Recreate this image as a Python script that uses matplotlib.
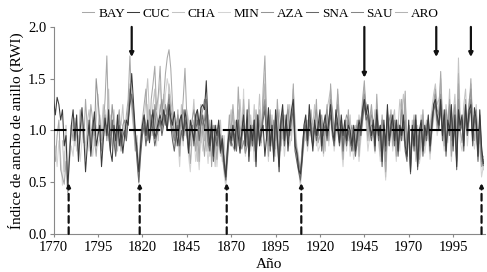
import numpy as np
import matplotlib
matplotlib.use('Agg')
import matplotlib.pyplot as plt

plt.rcParams.update({
    'font.family': 'serif',
    'font.serif': ['Liberation Serif', 'DejaVu Serif'],
    'font.size': 10.5,
    'axes.linewidth': 0.8,
})

# ring width index series (first year, values per year)
BAY_START = 1770
BAY = [0.78, 0.70, 0.95, 1.10, 0.62, 0.55, 0.48, 0.70, 0.40, 0.85,
       1.05, 0.90, 1.12, 0.95, 0.80, 1.20, 1.05, 0.88, 1.30, 1.02,
       0.95, 1.25, 1.10, 0.92, 0.75, 1.00, 1.15, 0.90, 1.05, 1.30,
       1.72, 1.05, 0.85, 1.10, 0.95, 0.78, 1.08, 1.20, 0.90, 1.00,
       0.92, 1.15, 1.30, 1.72, 1.25, 1.05, 0.80, 0.88, 0.55, 0.95,
       1.10, 1.25, 1.40, 1.05, 0.90, 1.30, 1.45, 1.62, 1.20, 1.35,
       1.62, 1.15, 1.30, 1.55, 1.70, 1.78, 1.60, 1.25, 1.00, 0.85,
       1.20, 0.75, 1.05, 1.30, 1.60, 1.15, 0.90, 0.68, 0.95, 1.10,
       0.80, 1.00, 0.70, 1.25, 0.95, 0.75, 1.05, 0.85, 1.10, 0.65,
       1.05, 0.90, 0.72, 1.00, 0.82, 0.75, 0.62, 0.52, 0.90, 1.15,
       0.95, 1.25, 1.00, 0.85, 1.42, 1.05, 0.90, 1.20, 0.78, 0.95,
       1.30, 0.85, 1.05, 0.80, 1.20, 0.95, 1.10, 0.88, 1.40, 1.72,
       1.10, 0.75, 1.20, 0.90, 1.05, 0.82, 1.30, 1.00, 0.92, 1.15,
       0.85, 1.05, 1.25, 0.95, 1.10, 1.45, 0.90, 0.75, 0.68, 0.50,
       0.80, 0.95, 1.10, 0.85, 1.05, 1.20, 0.92, 1.00, 1.30, 0.88,
       0.95, 1.10, 0.78, 1.05, 1.25, 0.90, 1.45, 1.15, 0.85, 1.00,
       1.40, 1.10, 0.95, 0.72, 1.05, 0.90, 1.20, 0.85, 1.00, 0.80,
       0.95, 1.10, 0.75, 1.05, 1.30, 1.48, 1.15, 0.90, 1.10, 1.25,
       1.05, 0.88, 1.35, 1.00, 0.80, 1.15, 0.92, 0.60, 1.05, 0.95,
       1.20, 0.85, 1.05, 0.75, 1.10, 0.90, 1.30, 1.00, 1.38, 0.82,
       1.05, 0.70, 0.95, 1.15, 0.80, 1.00, 0.72, 0.90, 1.20, 0.85,
       1.00, 1.10, 0.78, 1.05, 1.25, 1.40, 1.05, 1.20, 1.57, 1.10,
       0.85, 1.15, 0.95, 1.30, 0.75, 1.05, 1.20, 0.90, 1.45, 1.00,
       0.88, 1.10, 1.30, 0.95, 1.20, 1.50, 1.05, 0.90, 1.15, 0.80,
       0.95, 0.65, 0.70]

CUC_START = 1770
CUC = [1.30, 1.15, 1.32, 1.25, 1.10, 1.20, 0.85, 0.95, 0.45, 0.75,
       1.05, 1.20, 0.90, 1.15, 0.70, 1.00, 1.22, 0.95, 0.60, 0.85,
       1.10, 0.75, 1.00, 1.18, 0.85, 0.95, 1.05, 0.65, 0.90, 1.12,
       0.95, 1.20, 0.80, 0.70, 1.05, 0.90, 1.15, 0.85, 1.00, 0.78,
       0.95, 1.10, 1.05, 1.30, 1.55, 1.28, 1.00, 0.80, 0.60, 0.85,
       1.05, 1.15, 0.95, 1.10, 0.88, 1.05, 1.20, 0.92, 1.00, 1.08,
       1.15, 1.05, 1.20, 1.10, 1.00, 1.25, 1.12, 1.05, 1.18, 1.00,
       0.85, 1.10, 1.15, 0.95, 1.20, 1.05, 0.78, 1.10, 1.00, 0.90,
       1.15, 1.20, 1.05, 1.22, 1.25, 1.20, 1.48, 1.05, 0.85, 1.10,
       0.75, 1.05, 0.95, 1.10, 0.80, 0.92, 0.70, 0.55, 0.85, 1.00,
       0.90, 1.05, 0.82, 1.10, 0.95, 0.78, 1.00, 1.15, 0.85, 1.20,
       0.70, 1.05, 0.90, 1.10, 0.65, 1.15, 0.85, 1.00, 1.05, 0.75,
       0.95, 1.22, 0.85, 1.05, 0.70, 1.20, 0.95, 0.60, 1.10, 1.25,
       0.90, 1.15, 0.80, 1.05, 1.20, 1.30, 0.85, 0.78, 0.62, 0.58,
       0.75, 1.05, 1.15, 0.90, 1.25, 1.00, 0.80, 1.10, 0.95, 1.05,
       1.20, 0.85, 1.05, 1.15, 0.95, 1.10, 1.25, 1.00, 0.90, 1.20,
       1.05, 0.88, 1.15, 0.95, 1.10, 0.90, 1.05, 1.00, 0.85, 1.05,
       0.80, 0.95, 1.10, 1.00, 1.20, 1.30, 1.15, 1.25, 1.05, 0.95,
       1.10, 0.85, 1.20, 0.95, 1.05, 0.70, 1.10, 0.85, 1.25, 0.90,
       1.05, 1.15, 0.90, 1.10, 0.80, 1.05, 0.95, 1.15, 0.85, 0.75,
       1.10, 0.60, 1.05, 0.85, 1.15, 0.65, 1.00, 1.10, 0.80, 1.05,
       0.95, 1.15, 0.85, 1.05, 1.25, 1.30, 1.15, 1.05, 1.30, 0.95,
       1.20, 0.80, 1.10, 1.00, 1.25, 0.85, 1.15, 0.65, 1.20, 1.05,
       1.15, 0.85, 1.25, 1.00, 1.20, 1.25, 0.90, 1.22, 1.10, 0.75,
       1.20, 0.85, 0.68]

CHA_START = 1775
CHA = [0.90, 0.60, 1.05, 0.55, 0.80,
       0.95, 1.10, 0.85, 1.05, 0.75, 0.90, 1.15, 1.00, 0.72, 1.08,
       1.20, 0.95, 1.05, 0.85, 1.10, 1.35, 0.90, 1.00, 1.25, 0.95,
       1.10, 1.40, 0.85, 1.00, 1.20, 0.90, 0.80, 1.10, 1.05, 1.25,
       0.90, 1.05, 1.20, 1.45, 1.30, 1.10, 0.85, 0.95, 0.50, 0.80,
       0.95, 1.10, 1.30, 1.50, 1.15, 1.00, 1.25, 1.40, 1.05, 0.90,
       1.25, 1.10, 1.35, 1.20, 1.05, 1.45, 1.30, 1.15, 0.85, 1.00,
       1.10, 0.90, 1.25, 1.05, 0.95, 1.20, 1.10, 0.85, 1.05, 1.30,
       0.95, 0.70, 1.10, 0.88, 1.05, 0.95, 0.80, 1.15, 0.75, 1.00,
       0.90, 0.65, 1.05, 0.85, 1.10, 0.70, 0.95, 0.50, 0.80, 1.05,
       1.20, 0.90, 1.10, 1.05, 0.85, 1.30, 1.00, 1.25, 0.92, 1.05,
       0.85, 1.15, 0.95, 1.25, 0.80, 1.05, 1.35, 1.00, 1.20, 1.40,
       0.95, 1.05, 0.80, 1.15, 0.90, 1.10, 0.85, 1.20, 1.05, 0.92,
       1.15, 0.95, 1.05, 1.25, 0.90, 1.35, 1.10, 0.85, 0.75, 0.55,
       0.70, 1.00, 0.90, 1.10, 0.95, 1.15, 1.05, 1.25, 0.85, 1.00,
       1.10, 0.95, 1.05, 0.80, 1.20, 1.30, 1.40, 1.05, 0.95, 1.15,
       1.30, 0.95, 1.05, 0.85, 0.95, 1.10, 0.90, 1.15, 0.80, 1.00,
       1.05, 0.85, 1.15, 0.95, 1.25, 1.40, 1.20, 1.05, 0.90, 1.15,
       1.00, 1.20, 1.05, 0.90, 0.75, 1.10, 0.95, 0.55, 1.00, 1.15,
       0.95, 1.10, 1.20, 0.85, 1.05, 1.30, 1.15, 1.35, 1.10, 0.90,
       1.00, 0.75, 1.10, 0.95, 0.70, 1.05, 0.85, 1.15, 0.90, 1.00,
       1.10, 0.90, 1.05, 1.20, 1.35, 1.45, 1.25, 1.30, 1.40, 1.05,
       0.95, 1.25, 1.05, 1.40, 0.85, 1.15, 1.35, 0.95, 1.70, 1.10,
       1.00, 1.25, 1.40, 1.05, 1.30, 1.35, 1.10, 1.00, 1.25, 0.90,
       1.05, 0.75, 0.62]

MIN_START = 1770
MIN = [0.70, 0.85, 0.65, 0.90, 0.75, 0.47, 0.80, 0.60, 0.38, 0.70,
       0.85, 0.75, 1.00, 0.80, 0.95, 0.70, 0.90, 1.05, 0.85, 0.95,
       0.80, 1.00, 0.75, 0.90, 1.05, 0.85, 0.95, 0.70, 1.00, 1.20,
       1.05, 0.90, 1.15, 0.85, 1.00, 0.80, 0.95, 1.10, 0.85, 0.95,
       1.05, 0.90, 1.15, 1.35, 1.20, 1.00, 0.90, 0.75, 0.48, 0.85,
       0.95, 1.05, 0.90, 1.25, 1.10, 0.95, 1.15, 1.00, 0.85, 1.30,
       1.45, 1.20, 1.05, 1.35, 1.50, 1.40, 1.15, 0.95, 0.80, 1.05,
       0.90, 0.65, 1.00, 0.85, 1.15, 0.95, 0.75, 0.60, 0.90, 1.00,
       0.70, 0.85, 0.62, 0.95, 0.80, 1.05, 0.90, 0.68, 0.95, 0.75,
       0.85, 0.95, 0.65, 0.90, 0.75, 0.85, 0.58, 0.45, 0.70, 0.95,
       0.85, 1.05, 0.90, 0.80, 1.15, 0.95, 0.85, 1.40, 0.75, 0.90,
       1.10, 0.80, 0.95, 0.70, 1.05, 0.90, 1.00, 0.85, 1.25, 1.55,
       0.95, 0.70, 1.05, 0.85, 0.95, 0.75, 1.10, 0.90, 0.80, 1.00,
       0.75, 0.95, 1.05, 0.85, 0.95, 1.20, 0.80, 0.70, 0.62, 0.45,
       0.70, 0.85, 1.00, 0.80, 0.95, 1.05, 0.85, 0.90, 1.10, 0.80,
       0.85, 1.00, 0.75, 0.95, 1.10, 0.85, 1.20, 1.05, 0.80, 0.95,
       1.15, 1.00, 0.85, 0.65, 0.95, 0.80, 1.05, 0.75, 0.90, 0.72,
       0.85, 0.95, 0.70, 0.90, 1.05, 1.25, 1.05, 0.80, 0.95, 1.10,
       0.90, 0.78, 1.15, 0.90, 0.70, 1.00, 0.85, 0.52, 0.90, 0.85,
       1.05, 0.80, 0.95, 0.70, 1.00, 0.80, 1.15, 0.90, 1.20, 0.75,
       0.90, 0.65, 0.85, 1.00, 0.72, 0.90, 0.68, 0.80, 1.05, 0.78,
       0.90, 0.95, 0.72, 0.95, 1.10, 1.20, 0.95, 1.05, 1.35, 0.95,
       0.80, 1.00, 0.88, 1.15, 0.70, 0.95, 1.05, 0.80, 1.25, 0.90,
       0.80, 0.95, 1.15, 0.85, 1.05, 1.30, 0.95, 0.82, 1.00, 0.72,
       0.85, 0.55, 0.65]

AZA_START = 1790
AZA = [1.05, 0.85, 1.10, 0.95, 1.50, 1.30, 1.10, 0.80, 1.00, 1.15,
       0.90, 1.10, 0.95, 1.25, 1.05, 0.85, 1.00, 1.15, 0.80, 1.05,
       1.10, 0.95, 1.20, 1.40, 1.30, 1.15, 0.90, 0.85, 0.55, 0.90,
       1.00, 1.15, 1.05, 0.90, 1.20, 1.10, 0.95, 1.25, 1.15, 1.05,
       1.20, 1.30, 1.10, 1.25, 1.15, 1.35, 1.20, 1.10, 0.95, 1.05,
       1.15, 1.00, 1.10, 1.20, 1.05, 1.15, 0.90, 1.00, 1.10, 1.20,
       1.05, 1.15, 0.95, 1.10, 1.20, 1.30, 1.25, 1.00, 0.90, 1.05,
       0.85, 1.00, 0.90, 1.05, 0.95, 0.80, 0.75, 0.60, 0.80, 0.95,
       0.90, 0.85, 0.80, 0.95, 1.05, 0.88, 0.82, 0.90, 0.78, 0.85,
       0.95, 1.05, 0.85, 1.10, 0.90, 1.15, 1.05, 0.95, 1.20, 1.30,
       1.05, 0.85, 1.15, 0.95, 1.10, 0.90, 1.20, 1.05, 0.85, 1.10,
       0.95, 1.10, 1.20, 1.05, 1.15, 1.25, 0.95, 0.80, 0.70, 0.60,
       0.85, 1.00, 1.10, 0.95, 1.15, 1.05, 0.95, 1.10, 1.20, 1.00,
       1.05, 1.15, 0.95, 1.10, 1.20, 1.05, 1.30, 1.20, 1.00, 1.10,
       1.25, 1.05, 1.10, 0.90, 1.05, 1.15, 1.10, 0.95, 1.05, 0.90,
       1.00, 1.05, 0.90, 1.10, 1.20, 1.35, 1.25, 1.10, 1.05, 1.15,
       1.10, 1.00, 1.15, 1.05, 0.90, 1.10, 1.00, 0.70, 1.05, 1.10,
       1.15, 1.00, 1.10, 0.90, 1.05, 1.00, 1.20, 1.05, 1.10, 0.85,
       1.00, 0.75, 0.95, 1.10, 0.85, 0.95, 0.80, 1.00, 1.10, 0.90,
       1.05, 1.10, 0.90, 1.15, 1.20, 1.35, 1.20, 1.15, 1.35, 1.05,
       1.00, 1.20, 1.05, 1.25, 0.90, 1.10, 1.25, 0.85, 1.30, 1.05,
       1.10, 0.95, 1.20, 1.05, 1.25, 1.40, 1.05, 1.15, 1.20, 0.85,
       1.00, 0.70, 0.72]

SNA_START = 1800
SNA = [1.05, 0.95, 0.80, 1.10, 0.90, 0.75, 1.00, 1.05, 0.85, 0.95,
       1.00, 0.90, 1.10, 1.25, 1.35, 1.20, 0.95, 0.70, 0.50, 0.75,
       0.95, 1.05, 0.85, 1.00, 0.90, 1.10, 1.00, 0.85, 0.95, 1.05,
       1.10, 0.95, 1.05, 1.15, 1.00, 1.20, 1.05, 0.90, 0.80, 0.95,
       1.05, 0.85, 1.00, 0.90, 1.10, 1.00, 0.80, 0.95, 1.05, 0.85,
       1.00, 1.10, 0.90, 1.05, 1.15, 1.00, 1.20, 0.90, 0.80, 1.00,
       0.70, 0.95, 0.85, 1.00, 0.78, 0.90, 0.65, 0.52, 0.75, 0.95,
       0.85, 1.00, 0.95, 0.80, 1.10, 0.90, 0.95, 1.05, 0.85, 1.10,
       0.75, 1.00, 0.85, 1.05, 0.70, 1.10, 0.90, 0.95, 1.10, 1.20,
       0.90, 1.15, 0.80, 1.00, 0.75, 1.10, 0.90, 0.65, 1.05, 1.15,
       0.85, 1.05, 0.90, 1.00, 1.10, 1.20, 0.80, 0.70, 0.60, 0.52,
       0.70, 0.95, 1.05, 0.85, 1.10, 0.95, 0.85, 1.05, 0.90, 1.00,
       1.10, 0.80, 1.00, 1.05, 0.90, 1.05, 1.15, 0.95, 0.85, 1.10,
       1.00, 0.85, 1.05, 0.80, 1.00, 0.85, 1.00, 0.90, 0.80, 0.95,
       0.75, 0.90, 1.05, 0.95, 1.10, 1.25, 1.10, 1.15, 1.00, 0.90,
       1.05, 0.80, 1.15, 0.90, 1.00, 0.65, 1.05, 0.80, 1.15, 0.85,
       1.00, 1.10, 0.85, 1.05, 0.75, 1.00, 0.90, 1.10, 0.80, 0.70,
       1.05, 0.58, 1.00, 0.80, 1.10, 0.62, 0.95, 1.05, 0.75, 1.00,
       0.90, 1.10, 0.80, 1.00, 1.20, 1.25, 1.10, 1.00, 1.25, 0.90,
       1.15, 0.75, 1.05, 0.95, 1.20, 0.80, 1.10, 0.62, 1.15, 1.00,
       1.10, 0.80, 1.20, 0.95, 1.15, 1.20, 0.85, 1.15, 1.05, 0.70,
       1.15, 0.80, 0.66]

SAU_START = 1820
SAU = [1.00, 1.10, 0.95, 1.05, 0.90, 1.15, 1.05, 1.20, 0.95, 1.00,
       1.10, 1.00, 1.15, 1.05, 1.20, 1.30, 1.10, 1.00, 0.90, 1.05,
       0.95, 1.05, 1.15, 1.00, 1.10, 0.95, 0.85, 1.00, 1.05, 0.90,
       1.10, 1.20, 1.00, 1.15, 1.05, 1.10, 1.30, 0.95, 0.85, 1.05,
       0.80, 1.00, 0.90, 1.05, 0.85, 0.95, 0.72, 0.58, 0.82, 1.00,
       0.95, 1.05, 0.88, 1.00, 1.10, 0.85, 0.95, 1.10, 0.90, 1.05,
       0.80, 1.00, 0.95, 1.10, 0.75, 1.05, 0.90, 1.00, 1.15, 1.25,
       1.00, 1.10, 0.90, 1.05, 0.80, 1.15, 1.00, 0.72, 1.05, 1.20,
       0.90, 1.10, 0.95, 1.05, 1.15, 1.25, 0.90, 0.80, 0.65, 0.55,
       0.80, 1.00, 1.10, 0.90, 1.15, 1.05, 0.90, 1.05, 1.00, 0.95,
       1.15, 0.90, 1.05, 1.10, 1.00, 1.05, 1.20, 1.00, 0.95, 1.15,
       1.10, 0.90, 1.10, 0.85, 1.05, 0.95, 1.10, 0.95, 0.90, 1.00,
       0.85, 1.00, 1.05, 0.95, 1.15, 1.30, 1.20, 1.10, 1.00, 1.05,
       1.05, 0.90, 1.10, 1.00, 1.05, 0.75, 1.05, 0.80, 1.20, 0.95,
       1.10, 1.05, 0.95, 1.10, 0.85, 1.05, 1.00, 1.10, 0.90, 0.80,
       1.05, 0.62, 1.00, 0.90, 1.05, 0.70, 1.00, 1.05, 0.85, 1.00,
       1.00, 1.05, 0.90, 1.10, 1.20, 1.30, 1.10, 1.05, 1.20, 1.00,
       1.10, 0.85, 1.05, 1.00, 1.15, 0.90, 1.05, 0.70, 1.20, 1.00,
       1.05, 0.90, 1.15, 1.00, 1.10, 1.30, 0.95, 1.10, 1.05, 0.78,
       1.10, 0.75, 0.70]

ARO_START = 1850
ARO = [1.00, 0.85, 1.10, 0.95, 1.05, 0.90, 1.15, 0.80, 1.00, 0.95,
       0.90, 1.05, 0.80, 0.95, 0.85, 0.75, 0.68, 0.55, 0.85, 1.00,
       1.05, 1.15, 0.90, 1.00, 1.20, 0.95, 0.85, 1.30, 0.90, 1.00,
       1.15, 0.90, 1.00, 0.85, 1.10, 0.95, 1.20, 0.90, 1.30, 1.45,
       1.05, 0.80, 1.10, 0.95, 1.00, 0.85, 1.15, 0.95, 0.90, 1.05,
       0.90, 1.00, 1.15, 0.95, 1.05, 1.40, 0.95, 0.80, 0.70, 0.55,
       0.75, 0.90, 1.05, 0.90, 1.00, 1.10, 0.95, 1.05, 1.20, 0.90,
       0.95, 1.05, 0.85, 1.00, 1.15, 0.95, 1.35, 1.10, 0.90, 1.05,
       1.35, 1.05, 0.95, 0.80, 1.00, 0.90, 1.15, 0.90, 0.95, 0.85,
       0.90, 1.05, 0.80, 1.00, 1.20, 1.42, 1.15, 0.95, 1.05, 1.20,
       1.00, 0.90, 1.25, 0.95, 0.85, 1.05, 0.95, 0.62, 1.00, 1.00,
       1.15, 0.90, 1.00, 0.80, 1.05, 0.95, 1.25, 1.00, 1.30, 0.85,
       1.00, 0.72, 0.90, 1.10, 0.85, 0.95, 0.78, 0.95, 1.15, 0.90,
       0.95, 1.05, 0.82, 1.00, 1.15, 1.30, 1.00, 1.15, 1.50, 1.05,
       0.90, 1.10, 1.00, 1.25, 0.80, 1.00, 1.15, 0.88, 1.55, 1.00,
       0.90, 1.05, 1.25, 0.95, 1.15, 1.45, 1.00, 0.92, 1.10, 0.85,
       0.90, 0.68, 0.75]

SITES = ['BAY', 'CUC', 'CHA', 'MIN', 'AZA', 'SNA', 'SAU', 'ARO']
COLORS = ['#a8a8a8', '#3a3a3a', '#c4c4c4', '#d4d4d4',
          '#959595', '#666666', '#858585', '#b4b4b4']

# years marked with arrows (wide rings above, narrow rings below)
WIDE_YEARS = [1814, 1945, 1985.5, 2005]
WIDE_TIPS = [1.71, 1.51, 1.71, 1.71]
NARROW_YEARS = [1778.5, 1818.5, 1867.5, 1909.5, 2011]

series = {
    'BAY': (BAY_START, BAY), 'CUC': (CUC_START, CUC),
    'CHA': (CHA_START, CHA), 'MIN': (MIN_START, MIN),
    'AZA': (AZA_START, AZA), 'SNA': (SNA_START, SNA),
    'SAU': (SAU_START, SAU), 'ARO': (ARO_START, ARO),
}

fig = plt.figure(figsize=(4.87, 2.72), dpi=100)
ax = fig.add_axes([0.11, 0.14, 0.885, 0.761])

# light lines first so the dark ones sit on top
order = sorted(range(len(SITES)), key=lambda i: -sum(int(COLORS[i][k:k + 2], 16) for k in (1, 3, 5)))
handles = {}
for z, i in enumerate(order):
    name = SITES[i]
    start, vals = series[name]
    yrs = start + np.arange(len(vals))
    ln, = ax.plot(yrs, vals, color=COLORS[i], lw=0.75, zorder=2 + z * 0.1)
    handles[name] = ln

ax.axhline(1.0, color='black', lw=1.5, dashes=(6, 3), zorder=4)

for yr, tip in zip(WIDE_YEARS, WIDE_TIPS):
    ax.annotate('', xy=(yr, tip), xytext=(yr, 2.0),
                arrowprops=dict(arrowstyle='-|>', color='#111111', lw=1.6,
                                mutation_scale=6, shrinkA=0, shrinkB=0),
                zorder=5, annotation_clip=False)
for yr in NARROW_YEARS:
    ax.annotate('', xy=(yr, 0.49), xytext=(yr, 0.0),
                arrowprops=dict(arrowstyle='-|>', color='#111111', lw=1.6,
                                ls=(0, (3, 2)), mutation_scale=5,
                                shrinkA=0, shrinkB=0),
                zorder=5, annotation_clip=False)

ax.set_xlim(1770, 2012.7)
ax.set_ylim(0, 2.0)
ax.set_xticks(np.arange(1770, 2000, 25))
ax.set_yticks([0.0, 0.5, 1.0, 1.5, 2.0])
ax.yaxis.set_major_formatter(matplotlib.ticker.FormatStrFormatter('%.1f'))
ax.tick_params(axis='both', colors='#888888', labelcolor='black', length=3,
               width=0.8, labelsize=10.5)
ax.tick_params(axis='x', length=2, pad=3)
ax.tick_params(axis='y', pad=2)

for side in ('top', 'right'):
    ax.spines[side].set_visible(False)
for side in ('left', 'bottom'):
    ax.spines[side].set_color('#888888')

ax.set_xlabel('Año', fontsize=11, labelpad=3)
ax.set_ylabel('Índice de ancho de anillo (RWI)', fontsize=11, labelpad=3)

fig.legend([handles[s] for s in SITES], SITES, loc='center', ncol=8,
           bbox_to_anchor=(0.535, 0.95), frameon=False, fontsize=9.5,
           handlelength=0.9, handletextpad=0.3, columnspacing=0.15)

fig.savefig('out.png', dpi=100)
